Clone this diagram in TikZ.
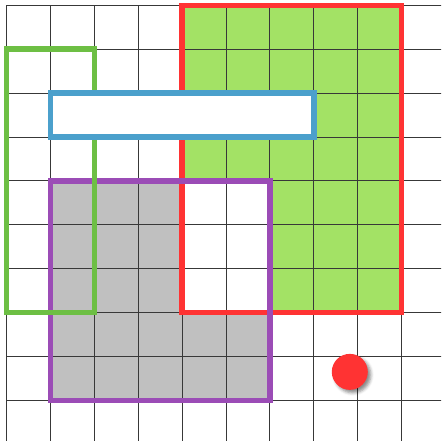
\documentclass[tikz,border=0pt]{standalone}
\usetikzlibrary{shadows.blur}
\definecolor{redline}{HTML}{FF3333}
\definecolor{greenfill}{HTML}{A3E265}
\definecolor{greenline}{HTML}{6DBF44}
\definecolor{blueline}{HTML}{4BA0CC}
\definecolor{purpleline}{HTML}{9B4CB6}
\definecolor{grayfill}{HTML}{C0C0C0}
\tikzset{
  gridline/.style={draw=black!78, line width=0.9pt},
  frame/.style={line width=5.5pt, line join=miter},
}
\begin{document}
\begin{tikzpicture}[x=1pt,y=-1pt]
\useasboundingbox (0,0) rectangle (441,441);
\clip (0,0) rectangle (441,441);
\begin{scope}[shift={(6.5,5.3)}, x=43.9pt, y=-43.9pt]
  % fills
  \fill[greenfill] (4,0) rectangle (9,7);
  \fill[grayfill] (1,4) rectangle (6,9);
  \fill[white] (4,4) rectangle (6,7);
  % grid
  \foreach \i in {0,...,9} {
    \draw[gridline] (\i,0) -- (\i,10);
    \draw[gridline] (0,\i) -- (10,\i);
  }
  % frames
  \draw[frame, redline] (4,0) rectangle (9,7);
  \draw[frame, purpleline] (1,4) rectangle (6,9);
  \draw[frame, greenline] (0,1) rectangle (2,7);
  \draw[frame, blueline, fill=white] (1,2) rectangle (7,3);
  % dot
  \node[circle, fill=redline, minimum size=36pt, inner sep=0pt,
        blur shadow={shadow xshift=3pt, shadow yshift=-3pt, shadow blur radius=3pt, shadow opacity=45}]
        (dot) at (7.82,8.35) {};
\end{scope}
\end{tikzpicture}
\end{document}
